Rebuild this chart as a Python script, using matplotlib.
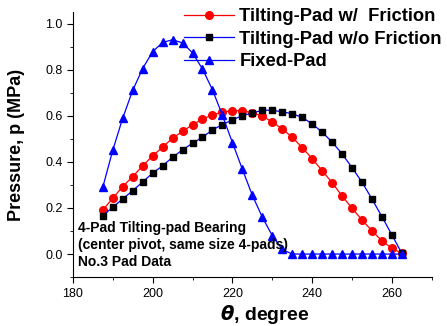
import numpy as np
import matplotlib.pyplot as plt
from matplotlib.ticker import MultipleLocator

plt.rcParams['font.family'] = ['Liberation Sans', 'DejaVu Sans']
plt.rcParams['mathtext.fontset'] = 'dejavusans'

# angle (degree) for every point, 2.5 degree steps
theta = np.arange(187.5, 262.6, 2.5)

p_friction = [0.191, 0.242, 0.293, 0.336, 0.383, 0.426, 0.464, 0.503, 0.532, 0.561,
              0.586, 0.604, 0.616, 0.622, 0.622, 0.613, 0.599, 0.573, 0.543, 0.507,
              0.462, 0.414, 0.362, 0.310, 0.252, 0.199, 0.148, 0.101, 0.057, 0.025, 0.003]

p_no_friction = [0.167, 0.203, 0.239, 0.275, 0.313, 0.351, 0.383, 0.420, 0.452, 0.481,
                 0.507, 0.539, 0.562, 0.582, 0.601, 0.612, 0.624, 0.624, 0.617, 0.609,
                 0.593, 0.565, 0.529, 0.486, 0.435, 0.375, 0.312, 0.239, 0.162, 0.083, 0.003]

p_fixed = [0.29, 0.45, 0.59, 0.71, 0.805, 0.878, 0.918, 0.93, 0.916, 0.873,
           0.803, 0.713, 0.602, 0.484, 0.368, 0.255, 0.16, 0.08, 0.02, 0.0,
           0.0, 0.0, 0.0, 0.0, 0.0, 0.0, 0.0, 0.0, 0.0, 0.0, 0.0]

fig = plt.figure(figsize=(4.47, 3.26), dpi=100)
ax = fig.add_axes([0.163, 0.150, 0.803, 0.813])

ax.plot(theta, p_friction, color='red', marker='o', ms=5.5, lw=0.9,
        label='Tilting-Pad w/  Friction')
ax.plot(theta, p_no_friction, color='blue', marker='s', ms=4.8, mfc='black', mec='black',
        lw=0.9, label='Tilting-Pad w/o Friction')
ax.plot(theta, p_fixed, color='blue', marker='^', ms=5.5, lw=0.9, label='Fixed-Pad')

ax.set_xlim(180, 270)
ax.set_ylim(-0.1, 1.05)
ax.xaxis.set_major_locator(MultipleLocator(20))
ax.xaxis.set_minor_locator(MultipleLocator(10))
ax.yaxis.set_minor_locator(MultipleLocator(0.1))
ax.set_yticks([0.0, 0.2, 0.4, 0.6, 0.8, 1.0])
ax.yaxis.set_major_formatter(plt.FormatStrFormatter('%.1f'))
ax.tick_params(which='major', direction='out', length=4, labelsize=9)
ax.tick_params(which='minor', direction='out', length=2.5)

ax.spines['top'].set_visible(False)
ax.spines['right'].set_visible(False)

ax.set_xlabel(r'$\boldsymbol{\theta}$, degree', fontsize=14, fontweight='bold')
ax.xaxis.set_label_coords(0.535, -0.098)
ax.set_ylabel('Pressure, p (MPa)', fontsize=13, fontweight='bold')
ax.yaxis.set_label_coords(-0.134, 0.5)

ax.text(0.015, 0.211, '4-Pad Tilting-pad Bearing\n(center pivot, same size 4-pads)\nNo.3 Pad Data',
        transform=ax.transAxes, fontsize=10, fontweight='bold', va='top', linespacing=1.25)

ax.legend(loc='upper left', bbox_to_anchor=(0.29, 1.042), frameon=False,
          prop={'weight': 'bold', 'size': 13.2}, handlelength=2.7,
          handletextpad=0.3, labelspacing=0.3, borderaxespad=0)

plt.savefig('out.png', dpi=100)
